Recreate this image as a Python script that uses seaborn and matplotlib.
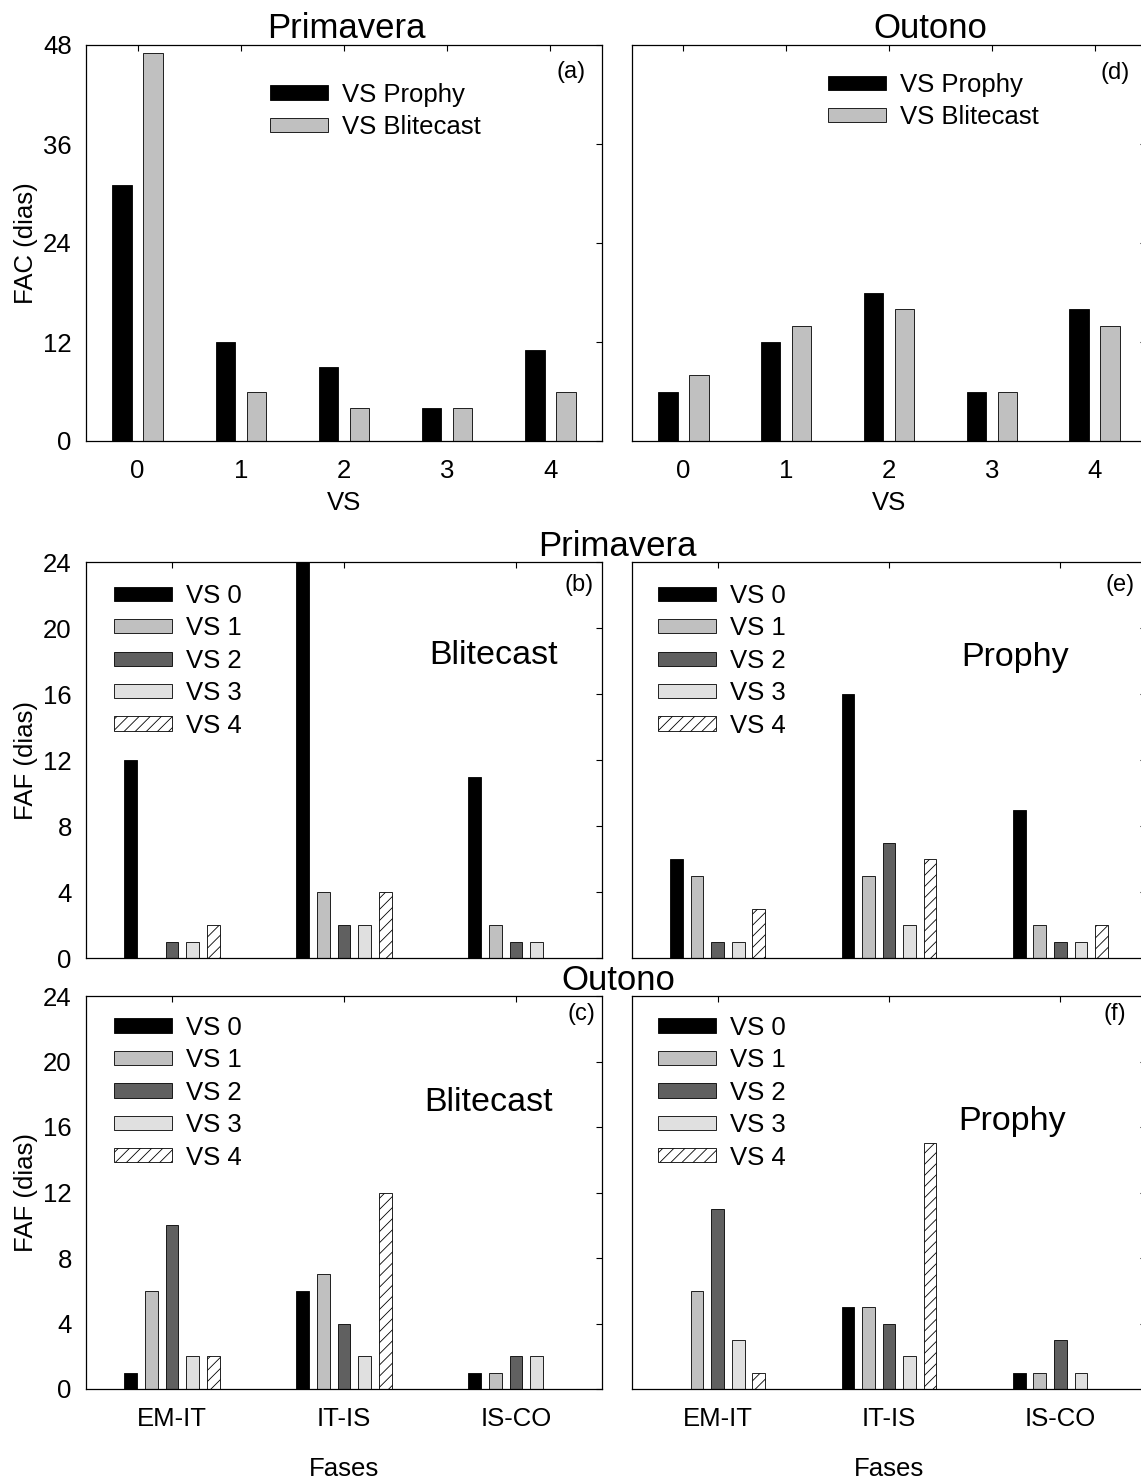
import matplotlib
matplotlib.use("Agg")
import pandas as pd
import matplotlib.pyplot as plt
import matplotlib.lines as mlines
from matplotlib.patches import Patch
import seaborn as sns

sns.set_style("white")
plt.rcParams["font.family"] = ["Liberation Sans", "DejaVu Sans"]
plt.rcParams["hatch.linewidth"] = 0.6
for k in ["text.color", "axes.labelcolor", "xtick.color", "ytick.color"]:
    plt.rcParams[k] = "black"

VS = ["0", "1", "2", "3", "4"]
SIST = ["VS Prophy", "VS Blitecast"]
FASES = ["EM-IT", "IT-IS", "IS-CO"]
VS_LEV = ["VS 0", "VS 1", "VS 2", "VS 3", "VS 4"]

# FAC (dias) por valor de severidade
fac_prim_prophy = [31, 12, 9, 4, 11]
fac_prim_blite = [47, 6, 4, 4, 6]
fac_out_prophy = [6, 12, 18, 6, 16]
fac_out_blite = [8, 14, 16, 6, 14]

# FAF (dias) por fase; cada linha = uma fase, colunas = VS 0..4
faf_prim_blite = [[12, 0, 1, 1, 2], [24, 4, 2, 2, 4], [11, 2, 1, 1, 0]]
faf_prim_prophy = [[6, 5, 1, 1, 3], [16, 5, 7, 2, 6], [9, 2, 1, 1, 2]]
faf_out_blite = [[1, 6, 10, 2, 2], [6, 7, 4, 2, 12], [1, 1, 2, 2, 0]]
faf_out_prophy = [[0, 6, 11, 3, 1], [5, 5, 4, 2, 15], [1, 1, 3, 1, 0]]

FAC_COLORS = ["black", "#c0c0c0"]
VS_COLORS = ["black", "#c0c0c0", "#606060", "#e0e0e0", "white"]
FS = 18.5


def fac_panel(ax, prophy, blite):
    df = pd.DataFrame({"VS": VS * 2, "FAC": prophy + blite,
                       "sistema": [SIST[0]] * 5 + [SIST[1]] * 5})
    sns.barplot(df, x="VS", y="FAC", hue="sistema", order=VS, hue_order=SIST,
                palette=FAC_COLORS, saturation=1, width=0.6, gap=0.37,
                edgecolor="black", linewidth=0.6, errorbar=None, legend=False, ax=ax)
    ax.set_ylim(0, 48)
    ax.set_yticks([0, 12, 24, 36, 48])


def faf_panel(ax, rows):
    recs = [(f, v, rows[i][j]) for i, f in enumerate(FASES) for j, v in enumerate(VS_LEV)]
    df = pd.DataFrame(recs, columns=["fase", "vs", "FAF"])
    sns.barplot(df, x="fase", y="FAF", hue="vs", order=FASES, hue_order=VS_LEV,
                palette=VS_COLORS, saturation=1, width=0.6, gap=0.38,
                edgecolor="black", linewidth=0.6, errorbar=None, legend=False, ax=ax)
    for bar in ax.containers[4]:
        bar.set_hatch("///")
    ax.set_ylim(0, 24)
    ax.set_yticks([0, 4, 8, 12, 16, 20, 24])


def style(ax, left_labels, bottom_labels):
    for s in ax.spines.values():
        s.set_visible(True)
        s.set_color("black")
        s.set_linewidth(0.9)
    ax.tick_params(direction="inout", length=8.5, width=0.8, top=True, right=True,
                   labelsize=FS, colors="black",
                   labelleft=left_labels, labelbottom=bottom_labels)
    ax.tick_params(axis="x", pad=9)
    ax.tick_params(axis="y", pad=6)
    ax.set_xlabel("")
    ax.set_ylabel("")


W, H = 1141, 1484
fig = plt.figure(figsize=(W / 100, H / 100), dpi=100)
cols = [86 / W, 632 / W]
widths = [516 / W, 514 / W]
rows = [(441, 396), (958, 396), (1389, 393)]
axes = {}
for r, (yb, h) in enumerate(rows):
    for c in range(2):
        axes[(r, c)] = fig.add_axes([cols[c], 1 - yb / H, widths[c], h / H])

fac_panel(axes[(0, 0)], fac_prim_prophy, fac_prim_blite)
fac_panel(axes[(0, 1)], fac_out_prophy, fac_out_blite)
faf_panel(axes[(1, 0)], faf_prim_blite)
faf_panel(axes[(1, 1)], faf_prim_prophy)
faf_panel(axes[(2, 0)], faf_out_blite)
faf_panel(axes[(2, 1)], faf_out_prophy)

for (r, c), ax in axes.items():
    style(ax, c == 0, r != 1)

leg_kw = dict(frameon=False, fontsize=FS, handlelength=2.25, handleheight=0.47,
              handletextpad=0.55, labelspacing=0.33, borderpad=0, borderaxespad=0,
              loc="upper left")
fac_handles = [Patch(facecolor=c, edgecolor="black", linewidth=0.6) for c in FAC_COLORS]
axes[(0, 0)].legend(fac_handles, SIST, bbox_to_anchor=(0.357, 0.905), **leg_kw)
axes[(0, 1)].legend(fac_handles, SIST, bbox_to_anchor=(0.381, 0.93), **leg_kw)

vs_handles = [Patch(facecolor=c, edgecolor="black", linewidth=0.6,
                    hatch="///" if i == 4 else None) for i, c in enumerate(VS_COLORS)]
axes[(1, 0)].legend(vs_handles, VS_LEV, bbox_to_anchor=(0.054, 0.945), **leg_kw)
axes[(1, 1)].legend(vs_handles, VS_LEV, bbox_to_anchor=(0.05, 0.945), **leg_kw)
axes[(2, 0)].legend(vs_handles, VS_LEV, bbox_to_anchor=(0.054, 0.95), **leg_kw)
axes[(2, 1)].legend(vs_handles, VS_LEV, bbox_to_anchor=(0.05, 0.95), **leg_kw)

tags = {(0, 0): ("(a)", 0.94, 0.932), (0, 1): ("(d)", 0.94, 0.93),
        (1, 0): ("(b)", 0.955, 0.942), (1, 1): ("(e)", 0.95, 0.942),
        (2, 0): ("(c)", 0.96, 0.954), (2, 1): ("(f)", 0.94, 0.954)}
for k, (t, x, y) in tags.items():
    axes[k].text(x, y, t, transform=axes[k].transAxes, fontsize=17, ha="center", va="center")

models = {(1, 0): ("Blitecast", 0.79, 0.765), (1, 1): ("Prophy", 0.745, 0.76),
          (2, 0): ("Blitecast", 0.78, 0.73), (2, 1): ("Prophy", 0.74, 0.68)}
for k, (t, x, y) in models.items():
    axes[k].text(x, y, t, transform=axes[k].transAxes, fontsize=24.5, ha="center", va="center")

for c in range(2):
    axes[(0, c)].set_xlabel("VS", fontsize=FS)
    axes[(0, c)].xaxis.set_label_coords(0.5, -0.125)
    axes[(2, c)].set_xlabel("Fases", fontsize=FS)
    axes[(2, c)].xaxis.set_label_coords(0.5, -0.172)
axes[(0, 0)].set_ylabel("FAC (dias)", fontsize=FS)
axes[(1, 0)].set_ylabel("FAF (dias)", fontsize=FS)
axes[(2, 0)].set_ylabel("FAF (dias)", fontsize=FS)
for r in range(3):
    axes[(r, 0)].yaxis.set_label_coords(-0.093, 0.5)

fig.text(346 / W, 1 - 29 / H, "Primavera", fontsize=25, ha="center", va="center")
fig.text(930 / W, 1 - 29 / H, "Outono", fontsize=25, ha="center", va="center")
fig.text(617 / W, 1 - 546 / H, "Primavera", fontsize=25, ha="center", va="center")
fig.text(618 / W, 1 - 980 / H, "Outono", fontsize=25, ha="center", va="center")

# top/right ticks point inward only
for ax in axes.values():
    for t in ax.xaxis.get_major_ticks():
        t.tick2line.set_marker(mlines.TICKDOWN)
        t.tick2line.set_markersize(4.5)
    for t in ax.yaxis.get_major_ticks():
        t.tick2line.set_marker(mlines.TICKLEFT)
        t.tick2line.set_markersize(4.5)

fig.savefig("out.png", dpi=100)
